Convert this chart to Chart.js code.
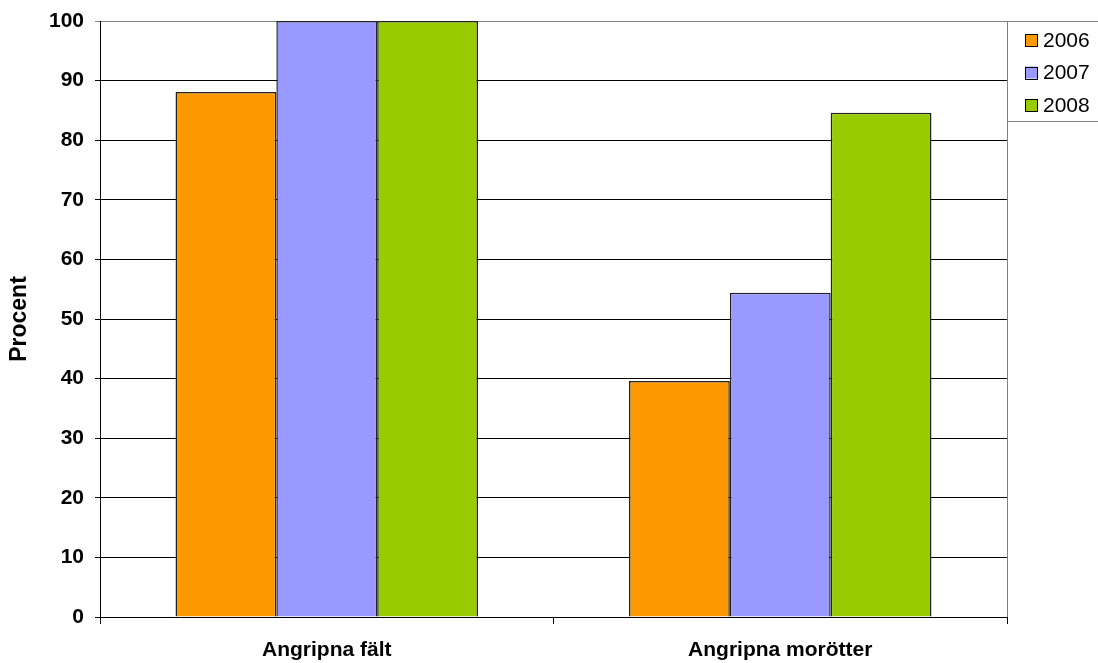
<!DOCTYPE html>
<html>
<head>
<meta charset="utf-8">
<script src="https://cdn.jsdelivr.net/npm/chart.js@4.4.0/dist/chart.umd.min.js"></script>
<style>
  body { margin: 0; background: #fff; }
  #wrap { width: 1098px; height: 663px; }
</style>
</head>
<body>
<div id="wrap"><canvas id="chartStuff" width="1098" height="663"></canvas></div>
<script>
// chart data
var categories = ["Angripna fält", "Angripna morötter"];
var years = ["2006", "2007", "2008"];
var vals2006 = [88.1, 39.6];
var vals2007 = [100, 54.4];
var vals2008 = [100, 84.6];
var yTicks = [0, 10, 20, 30, 40, 50, 60, 70, 80, 90, 100];

var colors = ["#FF9900", "#9999FF", "#99CC00"];
var fontFam = "'Liberation Sans', Arial, sans-serif";

//legend in a box at the top right, like the original
var boxLegend = {
  id: "boxLegend",
  afterDraw: function(chart) {
    var ctx = chart.ctx;
    var area = chart.chartArea;
    ctx.save();
    // gray plot border on the right
    ctx.strokeStyle = "#808080";
    ctx.lineWidth = 1;
    ctx.beginPath();
    ctx.moveTo(area.right + 0.5, area.top);
    ctx.lineTo(area.right + 0.5, area.bottom);
    ctx.stroke();
    // legend frame
    ctx.beginPath();
    ctx.rect(area.right + 0.5, 21.5, 100, 100);
    ctx.stroke();
    ctx.font = "21px " + fontFam;
    ctx.textBaseline = "middle";
    chart.data.datasets.forEach(function(ds, i) {
      var y = 40 + i * 32.5;
      ctx.fillStyle = ds.backgroundColor;
      ctx.fillRect(1025, y - 6, 12, 12);
      ctx.strokeStyle = "#000";
      ctx.strokeRect(1025.5, Math.round(y - 6) + 0.5, 12, 12);
      ctx.fillStyle = "#000";
      ctx.fillText(ds.label, 1043, y + 1);
    });
    ctx.restore();
  }
};

var ctx = document.getElementById('chartStuff').getContext('2d');
var myChart = new Chart(ctx, {
  type: "bar",
  data: {
    labels: categories,
    datasets: [
      { label: years[0], data: vals2006, backgroundColor: colors[0] },
      { label: years[1], data: vals2007, backgroundColor: colors[1] },
      { label: years[2], data: vals2008, backgroundColor: colors[2] }
    ]
  },
  options: {
    responsive: false,
    animation: false,
    layout: { padding: { left: 0, top: 21, right: 91, bottom: 0 } },
    datasets: {
      bar: {
        borderColor: "#222",
        borderWidth: 1.5,
        categoryPercentage: 0.667,
        barPercentage: 1.0
      }
    },
    plugins: {
      legend: { display: false },
      tooltip: { enabled: false }
    },
    scales: {
      x: {
        afterFit: function(scale) {
          scale.height = 46;
          scale.paddingLeft = 0;
          scale.paddingRight = 0;
        },
        grid: { display: true, drawOnChartArea: false, drawTicks: true, tickLength: 7, color: "#000", offset: true },
        border: { display: true, color: "#000", width: 1 },
        ticks: {
          color: "#000",
          padding: 14,
          font: { family: fontFam, size: 21, weight: "bold" }
        }
      },
      y: {
        min: 0,
        max: 100,
        afterFit: function(scale) {
          scale.width = 100;
          //don't let the top label push the plot down
          scale.paddingTop = 0;
          scale.paddingBottom = 0;
        },
        afterBuildTicks: function(scale) {
          scale.ticks = yTicks.map(function(v) { return { value: v }; });
        },
        grid: {
          color: function(c) { return c.tick && c.tick.value === 100 ? "#808080" : "#000"; },
          lineWidth: 1,
          tickLength: 5,
          drawTicks: true
        },
        border: { display: true, color: "#000", width: 1 },
        ticks: {
          color: "#000",
          padding: 11,
          font: { family: fontFam, size: 21, weight: "bold" }
        },
        title: {
          display: true,
          text: "Procent",
          color: "#000",
          padding: { top: 6, bottom: 0 },
          font: { family: fontFam, size: 23, weight: "bold" }
        }
      }
    }
  },
  plugins: [boxLegend]
});
</script>
</body>
</html>
